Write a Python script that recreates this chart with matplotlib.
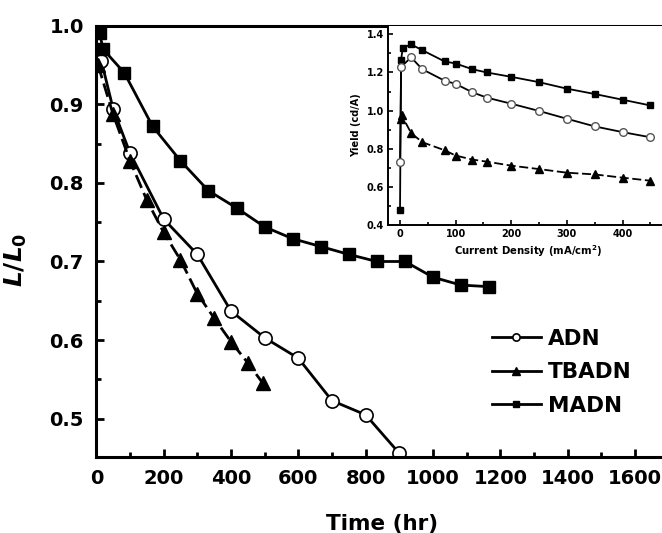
import matplotlib
matplotlib.use("Agg")
import matplotlib.pyplot as plt
from matplotlib.ticker import MultipleLocator

plt.rcParams['font.family'] = ['DejaVu Sans']
plt.rcParams['font.weight'] = 'bold'
plt.rcParams['mathtext.fontset'] = 'custom'
plt.rcParams['mathtext.it'] = 'DejaVu Sans:italic:bold'
plt.rcParams['mathtext.rm'] = 'DejaVu Sans:bold'

# main plot: lifetime data
adn_t = [15, 50, 100, 200, 300, 400, 500, 600, 700, 800, 900]
adn_l = [0.955, 0.894, 0.838, 0.754, 0.709, 0.637, 0.603, 0.577, 0.523, 0.505, 0.456]

tbadn_t = [5, 50, 100, 150, 200, 250, 300, 350, 400, 450, 495]
tbadn_l = [0.95, 0.887, 0.828, 0.778, 0.737, 0.702, 0.659, 0.628, 0.598, 0.571, 0.545]

madn_t = [10, 20, 83, 167, 250, 333, 417, 500, 583, 667, 750, 833, 917, 1000, 1083, 1167]
madn_l = [0.99, 0.97, 0.94, 0.872, 0.828, 0.79, 0.768, 0.744, 0.729, 0.719, 0.709,
          0.700, 0.700, 0.680, 0.670, 0.668]

# inset: yield vs current density
in_madn_j = [0, 2, 5, 20, 40, 80, 100, 130, 156, 200, 250, 300, 350, 400, 450]
in_madn_y = [0.477, 1.268, 1.33, 1.347, 1.317, 1.258, 1.247, 1.217, 1.2, 1.177,
             1.149, 1.115, 1.087, 1.057, 1.027]

in_adn_j = [0, 2, 20, 40, 80, 100, 130, 156, 200, 250, 300, 350, 400, 450]
in_adn_y = [0.729, 1.23, 1.279, 1.217, 1.157, 1.14, 1.096, 1.068, 1.036, 0.998,
            0.957, 0.917, 0.887, 0.860]

in_tb_j = [1, 3, 20, 40, 80, 100, 130, 156, 200, 250, 300, 350, 400, 450]
in_tb_y = [0.955, 0.975, 0.882, 0.834, 0.792, 0.764, 0.743, 0.732, 0.711, 0.693,
           0.674, 0.665, 0.648, 0.632]

fig = plt.figure(figsize=(6.62, 5.33), dpi=100)
ax = fig.add_axes([0.1455, 0.1435, 0.8646, 0.8085])

ax.plot(adn_t, adn_l, '-', color='black', lw=2, marker='o', ms=9.5,
        mfc='white', mec='black', mew=1.2, label='ADN')
ax.plot(tbadn_t, tbadn_l, '--', color='black', lw=2, dashes=(5, 2), marker='^',
        ms=10, mfc='black', mec='black', label='TBADN')
ax.plot(madn_t, madn_l, '-', color='black', lw=2, marker='s', ms=9,
        mfc='black', mec='black', label='MADN')

ax.set_xlim(0, 1700)
ax.set_ylim(0.452, 1.0)
ax.xaxis.set_major_locator(MultipleLocator(200))
ax.xaxis.set_minor_locator(MultipleLocator(100))
ax.yaxis.set_major_locator(MultipleLocator(0.1))
ax.yaxis.set_minor_locator(MultipleLocator(0.05))
ax.tick_params(which='both', direction='in', width=2, labelsize=14, top=False, right=False)
ax.tick_params(which='major', length=6, pad=9)
ax.tick_params(which='minor', length=3.5)
for lab in ax.get_xticklabels() + ax.get_yticklabels():
    lab.set_fontweight('bold')
for s in ax.spines.values():
    s.set_linewidth(2.2)
ax.spines['right'].set_visible(False)

ax.set_xlabel('Time (hr)', fontsize=15.5, fontweight='bold', labelpad=19)
ax.set_ylabel(r'$L/L_0$', fontsize=18)
ax.yaxis.set_label_coords(-0.118, 0.456)

leg = ax.legend(loc='lower left', bbox_to_anchor=(0.672, 0.07), frameon=False,
                fontsize=15.5, markerscale=0.55, handlelength=2.3, handletextpad=0.3,
                labelspacing=0.62, borderpad=0)
for t in leg.get_texts():
    t.set_fontweight('bold')
for h in leg.get_lines():
    h.set_linestyle('-')

# inset
ins = fig.add_axes([0.5866, 0.578, 0.421, 0.374])
ins.plot(in_madn_j, in_madn_y, '-', color='black', lw=1.3, marker='s', ms=4.5,
         mfc='black', mec='black')
ins.plot(in_adn_j, in_adn_y, '-', color='black', lw=1.3, marker='o', ms=5.5,
         mfc='white', mec='#555555', mew=1.0)
ins.plot(in_tb_j, in_tb_y, '--', color='black', lw=1.3, dashes=(5, 2), marker='^',
         ms=5.5, mfc='black', mec='black')
ins.set_xlim(-21, 480)
ins.set_ylim(0.4, 1.446)
ins.xaxis.set_major_locator(MultipleLocator(100))
ins.xaxis.set_minor_locator(MultipleLocator(50))
ins.yaxis.set_major_locator(MultipleLocator(0.2))
ins.yaxis.set_minor_locator(MultipleLocator(0.1))
ins.tick_params(which='both', direction='in', width=1.2, labelsize=7, top=False, right=False)
ins.tick_params(which='major', length=3.5, pad=3)
ins.tick_params(which='minor', length=2)
for lab in ins.get_xticklabels() + ins.get_yticklabels():
    lab.set_fontweight('bold')
for s in ins.spines.values():
    s.set_linewidth(1.4)
ins.spines['top'].set_visible(False)
ins.spines['right'].set_visible(False)
ins.set_xlabel(r'Current Density (mA/cm$^2$)', fontsize=7.3, fontweight='bold', labelpad=3)
ins.set_ylabel('Yield (cd/A)', fontsize=7, fontweight='bold', labelpad=4)

fig.savefig('out.png', dpi=100)
